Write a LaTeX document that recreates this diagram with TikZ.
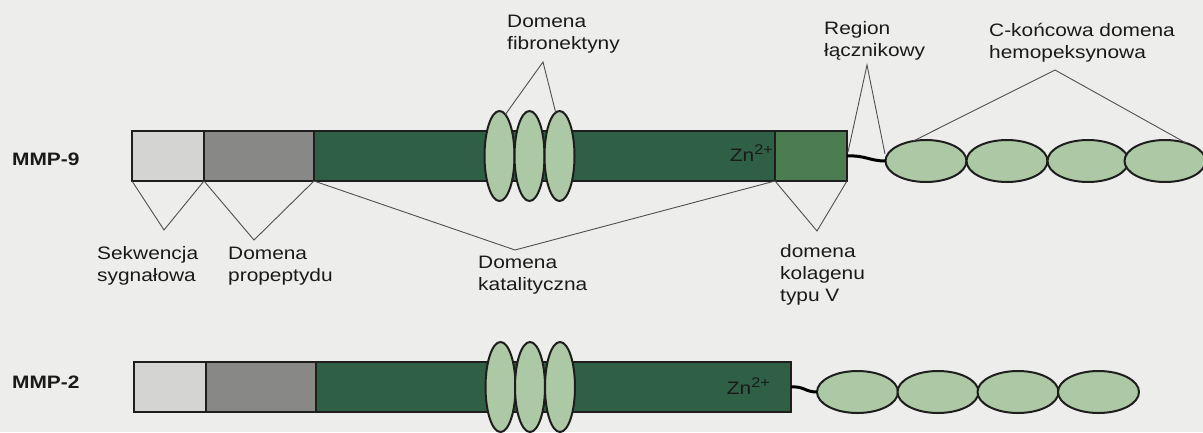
\documentclass[tikz,border=0pt]{standalone}
\usepackage{fontspec}
\setmainfont{Liberation Sans}[FakeStretch=1.16]
\usetikzlibrary{shapes.geometric}
\definecolor{bgc}{HTML}{EDEDEB}
\definecolor{sigc}{HTML}{D4D4D3}
\definecolor{proc}{HTML}{888887}
\definecolor{catc}{HTML}{2F5F45}
\definecolor{colc}{HTML}{4B7D50}
\definecolor{elc}{HTML}{ADC8A4}
\definecolor{bordc}{HTML}{1E1E1E}
\definecolor{callc}{HTML}{505050}
\definecolor{txtc}{HTML}{1A1A1A}
\newcommand{\twol}[2]{\vtop{\hbox{#1}\hbox{#2}}}
\newcommand{\threel}[3]{\vtop{\hbox{#1}\hbox{#2}\hbox{#3}}}
\newcommand{\znion}{Zn\raisebox{7pt}{\fontsize{14}{14}\selectfont 2+}}
\tikzset{
  dom/.style={draw=bordc, line width=1.5pt, minimum height=50pt, inner sep=0pt, outer sep=0pt},
  fib/.style={ellipse, draw=bordc, fill=elc, line width=2pt, minimum width=30pt, minimum height=90pt, inner sep=0pt, outer sep=0pt},
  hem/.style={ellipse, draw=bordc, fill=elc, line width=2pt, minimum width=81pt, minimum height=42pt, inner sep=0pt, outer sep=0pt},
  callout/.style={draw=callc, line width=0.9pt},
  lbl/.style={anchor=base west, inner sep=0pt, text=txtc, font=\fontsize{18}{22}\selectfont},
  mmp/.style={anchor=base west, inner sep=0pt, text=txtc, font=\fontsize{18}{22}\selectfont\bfseries},
  zn/.style={anchor=base east, inner sep=0pt, text=txtc, font=\fontsize{18}{22}\selectfont},
  linker/.style={line width=3pt, draw=black},
}
\begin{document}
\begin{tikzpicture}[x=1pt, y=-1pt]
\fill[bgc] (0,0) rectangle (1203,432);
\useasboundingbox (0,0) rectangle (1203,432);

% ---------- MMP-9 ----------
\node[mmp] (m9) at (12,165) {MMP-9};
\node[dom, fill=sigc, minimum width=72pt] (sig9) at (168,156) {};
\node[dom, fill=proc, minimum width=110pt] (pro9) at (259,156) {};
\node[dom, fill=catc, minimum width=461pt] (cat9) at (544.5,156) {};
\node[dom, fill=colc, minimum width=72pt] (col9) at (811,156) {};
\node[zn] (zn9) at (773,161) {\znion};
\node[fib] (f9a) at (499.5,156) {};
\node[fib] (f9b) at (529.5,156) {};
\node[fib] (f9c) at (559.5,156) {};
\node[hem] (h9a) at (926,161) {};
\node[hem] (h9b) at (1007,161) {};
\node[hem] (h9c) at (1088,161) {};
\node[hem] (h9d) at (1165,161) {};
\draw[linker] (col9.east) .. controls +(18,-1) and +(-16,0) .. (h9a.west);

% labels MMP-9
\node[lbl] (lfib) at (507,27) {\twol{Domena}{fibronektyny}};
\node[lbl] (lreg) at (824,34) {\twol{Region}{łącznikowy}};
\node[lbl] (lhem) at (989,36) {\twol{C-końcowa domena}{hemopeksynowa}};
\node[lbl] (lsig) at (97,259) {\twol{Sekwencja}{sygnałowa}};
\node[lbl] (lpro) at (228,259) {\twol{Domena}{propeptydu}};
\node[lbl] (lcat) at (478,268) {\twol{Domena}{katalityczna}};
\node[lbl] (lcol) at (780,257) {\threel{domena}{kolagenu}{typu V}};

\coordinate (afib) at (543,62);
\coordinate (areg) at (867,65);
\coordinate (ahem) at (1055,70);
\coordinate (asig) at (164,230);
\coordinate (apro) at (254,240);
\coordinate (acat) at (515,250);
\coordinate (acol) at (817,231);
\coordinate (reg9l) at (848,152);
\coordinate (reg9r) at (885,154);

\draw[callout] (f9a.82) -- (afib) -- (f9c.95);
\draw[callout] (reg9l) -- (areg) -- (reg9r);
\draw[callout] (h9a.123) -- (ahem) -- (h9d.40);
\draw[callout] (sig9.south west) -- (asig) -- (sig9.south east);
\draw[callout] (pro9.south west) -- (apro) -- (pro9.south east);
\draw[callout] (cat9.south west) -- (acat) -- (cat9.south east);
\draw[callout] (col9.south west) -- (acol) -- (col9.south east);

% ---------- MMP-2 ----------
\node[mmp] (m2) at (12,388) {MMP-2};
\node[dom, fill=sigc, minimum width=72pt] (sig2) at (170,387) {};
\node[dom, fill=proc, minimum width=110pt] (pro2) at (261,387) {};
\node[dom, fill=catc, minimum width=475pt] (cat2) at (553.5,387) {};
\node[zn] (zn2) at (770,394) {\znion};
\node[fib] (f2a) at (500.5,387) {};
\node[fib] (f2b) at (530,387) {};
\node[fib] (f2c) at (560,387) {};
\node[hem] (h2a) at (857.5,392) {};
\node[hem] (h2b) at (938,392) {};
\node[hem] (h2c) at (1018,392) {};
\node[hem] (h2d) at (1098.5,392) {};
\draw[linker] (cat2.east) .. controls +(13,-1) and +(-12,0) .. (h2a.west);
\end{tikzpicture}
\end{document}
